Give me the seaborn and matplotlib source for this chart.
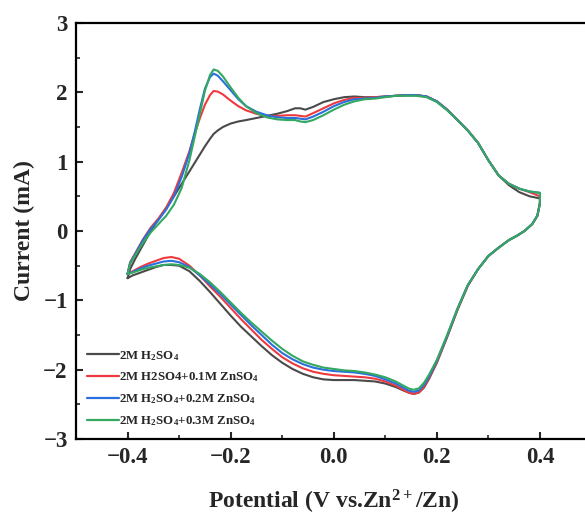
import numpy as np
import pandas as pd
import matplotlib
matplotlib.use("Agg")
import matplotlib.pyplot as plt
import seaborn as sns
from matplotlib.ticker import MultipleLocator

# ---------------- data ----------------
series_names = [
    "2M H$_2$SO$_4$",
    "2M H2SO4+0.1M ZnSO$_4$",
    "2M H$_2$SO$_4$+0.2M ZnSO$_4$",
    "2M H$_2$SO$_4$+0.3M ZnSO$_4$",
]
series_colors = ["#4a4a4a", "#ee3a3f", "#2a6fdc", "#33a860"]

# anodic (forward) scan potentials, V
potential_anodic = [-0.400, -0.395, -0.385, -0.37, -0.355, -0.34, -0.325, -0.31, -0.295, -0.28,
                    -0.27, -0.26, -0.25, -0.24, -0.233, -0.225, -0.215, -0.20, -0.185, -0.17,
                    -0.15, -0.13, -0.11, -0.09, -0.075, -0.065, -0.055, -0.04, -0.02, 0.00,
                    0.02, 0.04, 0.06, 0.08, 0.10, 0.12, 0.14, 0.16, 0.18, 0.20,
                    0.22, 0.24, 0.26, 0.28, 0.30, 0.32, 0.34, 0.36, 0.38, 0.40]

# cathodic (reverse) scan potentials, V
potential_cathodic = [0.40, 0.395, 0.385, 0.37, 0.355, 0.34, 0.32, 0.30, 0.28, 0.26,
                      0.24, 0.22, 0.20, 0.185, 0.175, 0.165, 0.155, 0.145, 0.135, 0.12,
                      0.10, 0.08, 0.06, 0.04, 0.02, 0.00, -0.02, -0.04, -0.06, -0.08,
                      -0.10, -0.12, -0.14, -0.16, -0.18, -0.20, -0.22, -0.24, -0.26, -0.28,
                      -0.30, -0.315, -0.33, -0.345, -0.36, -0.375, -0.39, -0.40]

# currents, mA
h2so4_anodic = [-0.68, -0.55, -0.40, -0.20, 0.00, 0.17, 0.33, 0.50, 0.68, 0.86,
                0.98, 1.10, 1.22, 1.33, 1.40, 1.45, 1.50, 1.55, 1.58, 1.60,
                1.63, 1.66, 1.69, 1.73, 1.77, 1.77, 1.75, 1.79, 1.86, 1.90,
                1.93, 1.94, 1.93, 1.93, 1.94, 1.95, 1.96, 1.96, 1.94, 1.87,
                1.75, 1.60, 1.45, 1.27, 1.02, 0.80, 0.66, 0.56, 0.50, 0.47]
h2so4_cathodic = [0.40, 0.22, 0.10, 0.00, -0.07, -0.13, -0.24, -0.36, -0.55, -0.79,
                  -1.14, -1.53, -1.90, -2.13, -2.26, -2.33, -2.35, -2.33, -2.30, -2.25,
                  -2.20, -2.17, -2.16, -2.15, -2.15, -2.15, -2.14, -2.11, -2.06, -1.99,
                  -1.90, -1.79, -1.66, -1.52, -1.38, -1.22, -1.05, -0.88, -0.72, -0.58,
                  -0.50, -0.49, -0.49, -0.52, -0.56, -0.60, -0.64, -0.68]

zn01_anodic = [-0.62, -0.45, -0.32, -0.12, 0.05, 0.18, 0.34, 0.55, 0.84, 1.15,
               1.40, 1.62, 1.82, 1.96, 2.02, 2.01, 1.97, 1.88, 1.80, 1.74,
               1.69, 1.66, 1.66, 1.67, 1.67, 1.66, 1.65, 1.70, 1.77, 1.84,
               1.89, 1.92, 1.92, 1.93, 1.94, 1.95, 1.96, 1.96, 1.94, 1.87,
               1.75, 1.60, 1.45, 1.27, 1.02, 0.80, 0.68, 0.61, 0.56, 0.50]
zn01_cathodic = [0.42, 0.22, 0.10, 0.00, -0.07, -0.13, -0.24, -0.36, -0.55, -0.79,
                 -1.13, -1.52, -1.89, -2.12, -2.25, -2.33, -2.35, -2.33, -2.29, -2.23,
                 -2.17, -2.13, -2.11, -2.10, -2.09, -2.08, -2.06, -2.03, -1.98, -1.91,
                 -1.82, -1.70, -1.57, -1.42, -1.27, -1.11, -0.95, -0.80, -0.64, -0.50,
                 -0.40, -0.375, -0.39, -0.43, -0.47, -0.52, -0.58, -0.62]

zn02_anodic = [-0.62, -0.46, -0.33, -0.13, 0.03, 0.16, 0.31, 0.50, 0.78, 1.12,
               1.42, 1.75, 2.05, 2.22, 2.27, 2.24, 2.16, 2.03, 1.90, 1.80,
               1.72, 1.67, 1.64, 1.63, 1.63, 1.62, 1.61, 1.65, 1.72, 1.80,
               1.86, 1.90, 1.91, 1.92, 1.94, 1.95, 1.96, 1.96, 1.94, 1.87,
               1.75, 1.60, 1.45, 1.27, 1.02, 0.80, 0.68, 0.61, 0.57, 0.55]
zn02_cathodic = [0.40, 0.22, 0.10, 0.00, -0.07, -0.13, -0.24, -0.36, -0.55, -0.78,
                 -1.12, -1.51, -1.87, -2.10, -2.22, -2.30, -2.32, -2.30, -2.26, -2.20,
                 -2.14, -2.09, -2.06, -2.04, -2.03, -2.02, -2.00, -1.97, -1.92, -1.85,
                 -1.76, -1.64, -1.50, -1.36, -1.21, -1.06, -0.91, -0.77, -0.64, -0.52,
                 -0.45, -0.43, -0.44, -0.47, -0.50, -0.54, -0.59, -0.62]

zn03_anodic = [-0.62, -0.47, -0.35, -0.17, -0.02, 0.10, 0.22, 0.38, 0.62, 1.02,
               1.35, 1.68, 2.02, 2.25, 2.33, 2.31, 2.23, 2.07, 1.92, 1.80,
               1.70, 1.64, 1.61, 1.60, 1.60, 1.58, 1.57, 1.60, 1.67, 1.75,
               1.82, 1.87, 1.90, 1.91, 1.93, 1.95, 1.95, 1.95, 1.93, 1.86,
               1.74, 1.60, 1.45, 1.27, 1.02, 0.80, 0.68, 0.61, 0.57, 0.55]
zn03_cathodic = [0.40, 0.22, 0.10, 0.00, -0.07, -0.13, -0.24, -0.36, -0.55, -0.78,
                 -1.12, -1.50, -1.86, -2.07, -2.19, -2.27, -2.29, -2.27, -2.23, -2.17,
                 -2.11, -2.07, -2.04, -2.02, -2.01, -1.99, -1.97, -1.93, -1.88, -1.80,
                 -1.70, -1.58, -1.45, -1.32, -1.18, -1.03, -0.88, -0.74, -0.62, -0.53,
                 -0.49, -0.48, -0.49, -0.51, -0.53, -0.56, -0.60, -0.62]

x_ticks = [-0.4, -0.2, 0.0, 0.2, 0.4]
y_ticks = [-3, -2, -1, 0, 1, 2, 3]

# ---------------- build table ----------------
anodic_sets = [h2so4_anodic, zn01_anodic, zn02_anodic, zn03_anodic]
cathodic_sets = [h2so4_cathodic, zn01_cathodic, zn02_cathodic, zn03_cathodic]
rows = []
for name, ia, ic in zip(series_names, anodic_sets, cathodic_sets):
    pots = list(potential_anodic) + list(potential_cathodic)
    curs = list(ia) + list(ic)
    for k, (p, c) in enumerate(zip(pots, curs)):
        rows.append({"series": name, "step": k, "Potential": p, "Current": c})
df = pd.DataFrame(rows)

# ---------------- style ----------------
sns.set_theme(style="ticks")
plt.rcParams["font.family"] = ["Liberation Serif", "DejaVu Serif"]
plt.rcParams["font.weight"] = "bold"
plt.rcParams["axes.labelweight"] = "bold"
plt.rcParams["mathtext.fontset"] = "custom"
plt.rcParams["mathtext.rm"] = "Liberation Serif:bold"
plt.rcParams["mathtext.bf"] = "Liberation Serif:bold"
plt.rcParams["mathtext.it"] = "Liberation Serif:bold"
plt.rcParams["mathtext.default"] = "bf"

fig = plt.figure(figsize=(5.85, 5.18), dpi=100)
ax = fig.add_axes([76 / 585, 79 / 518, 515.5 / 585, 416 / 518])

sns.lineplot(data=df, x="Potential", y="Current", hue="series",
             hue_order=series_names, palette=series_colors,
             sort=False, estimator=None, linewidth=1.5, ax=ax)

ax.set_xlim(-0.5, 0.5)
ax.set_ylim(-3, 3)
ax.set_xticks(x_ticks)
ax.set_xticklabels([f"{t:.1f}".replace("-", "\u2212") for t in x_ticks])
ax.set_yticks(y_ticks)
ax.set_yticklabels([f"{t:d}".replace("-", "\u2212") for t in y_ticks])
ax.xaxis.set_minor_locator(MultipleLocator(0.1))
ax.yaxis.set_minor_locator(MultipleLocator(0.5))
ax.tick_params(which="major", direction="in", length=5, width=1.5,
               labelsize=16.5, top=False, right=False, pad=6)
ax.tick_params(which="minor", direction="in", length=3, width=1.2,
               top=False, right=False)
for lab in ax.get_xticklabels() + ax.get_yticklabels():
    lab.set_fontweight("bold")

for s in ["left", "bottom", "top"]:
    ax.spines[s].set_linewidth(1.6)
    ax.spines[s].set_color("black")
ax.spines["right"].set_visible(False)

ax.set_xlabel("Potential (V vs.Zn$^{2+}$/Zn)", fontsize=17, fontweight="bold", labelpad=14)
ax.set_ylabel("Current (mA)", fontsize=17, fontweight="bold", labelpad=6)

leg = ax.legend(loc="lower left", bbox_to_anchor=(0.0, 0.0), frameon=False,
                fontsize=9.3, handlelength=2.5, handletextpad=0.0,
                labelspacing=0.62, borderaxespad=0.45)
for t in leg.get_texts():
    t.set_fontweight("bold")
for h in leg.get_lines():
    h.set_linewidth(1.6)

fig.savefig("out.png", dpi=100)
